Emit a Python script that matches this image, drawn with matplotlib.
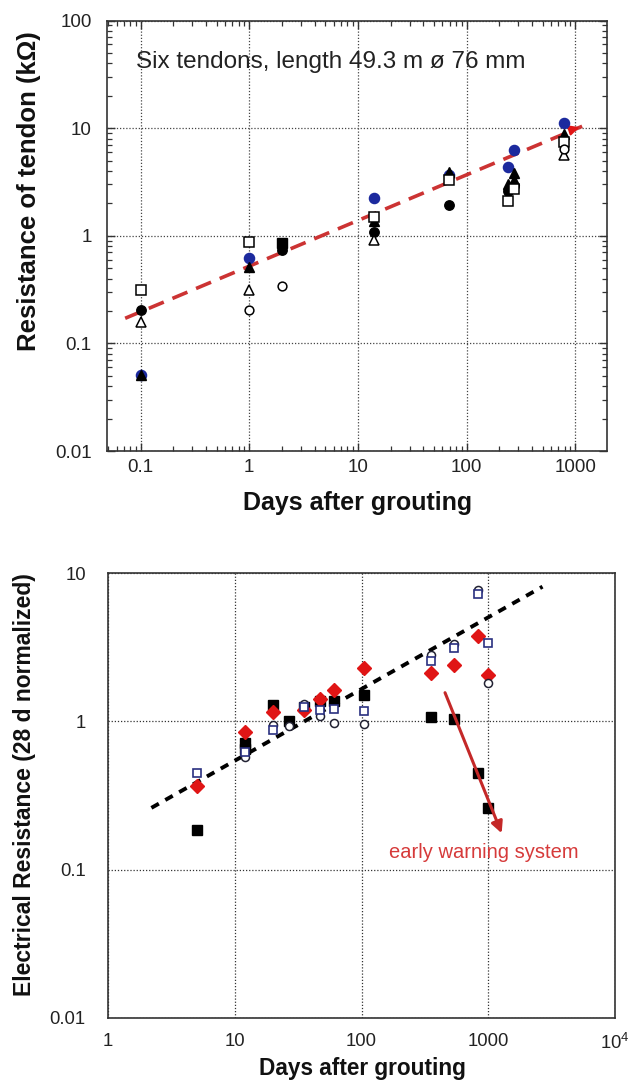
import matplotlib
matplotlib.use('Agg')
import matplotlib.pyplot as plt
from matplotlib.ticker import LogLocator, NullFormatter, FixedLocator

plt.rcParams['font.family'] = ['Liberation Sans', 'DejaVu Sans']

# ---- top chart: six tendons (days after grouting, resistance in kOhm)
sq_open_days = [0.1, 1, 14, 69, 242, 274, 793]
sq_open_res = [0.31, 0.87, 1.5, 3.28, 2.1, 2.71, 7.45]

circ_black_days = [0.1, 2, 14, 69, 242, 274]
circ_black_res = [0.205, 0.74, 1.09, 1.94, 2.6, 2.9]

tri_open_days = [0.1, 1, 14, 793]
tri_open_res = [0.157, 0.313, 0.92, 5.68]

circ_blue_days = [0.1, 1, 14, 69, 242, 274, 793]
circ_blue_res = [0.051, 0.625, 2.25, 3.7, 4.37, 6.23, 11.2]

tri_black_days = [0.1, 1, 14, 69, 242, 274, 274, 793]
tri_black_res = [0.051, 0.516, 1.38, 3.92, 3.0, 3.8, 3.3, 8.9]

circ_open_days = [1, 2, 793]
circ_open_res = [0.205, 0.344, 6.46]

sq_black_days = [2]
sq_black_res = [0.85]

trend_top_x = [0.072, 1157]
trend_top_y = [0.171, 10.4]

# ---- bottom chart: normalized resistance
b_sq_black_days = [5, 12, 12, 20, 27, 35, 47, 61, 104, 352, 539, 834, 1000]
b_sq_black_res = [0.185, 0.71, 0.655, 1.28, 1.0, 1.24, 1.38, 1.38, 1.5, 1.07, 1.04, 0.445, 0.259]

b_diamond_days = [5, 12, 20, 35, 47, 61, 104, 352, 539, 834, 1000]
b_diamond_res = [0.365, 0.85, 1.16, 1.19, 1.42, 1.62, 2.28, 2.12, 2.38, 3.79, 2.06]

b_sq_open_days = [5, 12, 20, 35, 47, 61, 104, 352, 539, 834, 1000]
b_sq_open_res = [0.45, 0.62, 0.88, 1.25, 1.2, 1.22, 1.17, 2.57, 3.13, 7.22, 3.38]

b_circ_open_days = [12, 20, 27, 35, 47, 61, 104, 352, 539, 834, 1000]
b_circ_open_res = [0.575, 0.94, 0.93, 1.31, 1.09, 0.98, 0.96, 2.82, 3.33, 7.69, 1.82]

trend_bot_x = [2.2, 2680]
trend_bot_y = [0.261, 8.09]

warn_x = [456, 1276]
warn_y = [1.56, 0.176]

top_xticks = [0.1, 1, 10, 100, 1000]
top_xlabels = ['0.1', '1', '10', '100', '1000']
top_yticks = [0.01, 0.1, 1, 10, 100]
top_ylabels = ['0.01', '0.1', '1', '10', '100']
bot_xticks = [1, 10, 100, 1000, 10000]
bot_xlabels = ['1', '10', '100', '1000', r'$\mathregular{10^4}$']
bot_yticks = [0.01, 0.1, 1, 10]
bot_ylabels = ['0.01', '0.1', '1', '10']

W, H = 639, 1084
fig = plt.figure(figsize=(W / 100, H / 100), dpi=100)

blue = '#1c2a9e'
navy = '#2a3080'
red = '#e01515'
dash_red = '#cc3333'

# ================= top chart
ax1 = fig.add_axes([107 / W, 1 - 451 / H, 500 / W, 430.5 / H])
ax1.set_xscale('log')
ax1.set_yscale('log')
ax1.set_xlim(0.049, 1960)
ax1.set_ylim(0.01, 100)

ax1.grid(True, which='major', color='#444444', linestyle=(0, (1, 1.5)), linewidth=0.9)
ax1.set_axisbelow(True)

ms = 6.8
ax1.plot(trend_top_x, trend_top_y, color=dash_red, lw=2.6, dashes=(4.5, 2.6), zorder=2)
ax1.annotate('', xy=(trend_top_x[1], trend_top_y[1]), xytext=(trend_top_x[1] * 0.8, trend_top_y[1] * 0.93),
             arrowprops=dict(arrowstyle='-|>', color=red, lw=1.5, mutation_scale=15), zorder=3)

ax1.plot(circ_blue_days, circ_blue_res, 'o', ms=ms + 0.5, color=blue, mec=blue, zorder=4)
ax1.plot(circ_black_days, circ_black_res, 'o', ms=ms, color='black', zorder=4)
ax1.plot(tri_black_days, tri_black_res, '^', ms=ms, color='black', zorder=5)
ax1.plot(sq_black_days, sq_black_res, 's', ms=ms, color='black', zorder=5)
ax1.plot(sq_open_days, sq_open_res, 's', ms=ms, mfc='white', mec='black', mew=1.1, zorder=5)
ax1.plot(tri_open_days, tri_open_res, '^', ms=ms, mfc='white', mec='black', mew=1.1, zorder=5)
ax1.plot(circ_open_days, circ_open_res, 'o', ms=ms - 0.5, mfc='white', mec='black', mew=1.1, zorder=5)

ax1.text(0.059, 41, 'Six tendons, length 49.3 m ø 76 mm', fontsize=17.5, va='center', ha='left',
         color='#222222', transform=ax1.get_yaxis_transform())

ax1.xaxis.set_major_locator(FixedLocator(top_xticks))
ax1.set_xticklabels(top_xlabels)
ax1.yaxis.set_major_locator(FixedLocator(top_yticks))
ax1.set_yticklabels(top_ylabels)
ax1.xaxis.set_minor_locator(LogLocator(base=10, subs=range(2, 10), numticks=20))
ax1.yaxis.set_minor_locator(LogLocator(base=10, subs=range(2, 10), numticks=20))
ax1.xaxis.set_minor_formatter(NullFormatter())
ax1.yaxis.set_minor_formatter(NullFormatter())
ax1.tick_params(which='both', direction='in', top=True, right=True, color='#333333')
ax1.tick_params(which='major', length=6, width=1.0)
ax1.tick_params(which='minor', length=3.5, width=0.9)
ax1.tick_params(axis='x', which='major', labelsize=13.5, pad=6, labelcolor='#222222')
ax1.tick_params(axis='y', which='major', labelsize=13.5, pad=11, labelcolor='#222222')
for s in ax1.spines.values():
    s.set_linewidth(1.2)
    s.set_color('#333333')

fig.text(358 / W, 1 - 503 / H, 'Days after grouting', fontsize=18, fontweight='bold',
         ha='center', va='center', color='#111111')
fig.text(29 / W, 1 - 191 / H, 'Resistance of tendon (kΩ)', fontsize=18.5, fontweight='bold',
         ha='center', va='center', rotation=90, color='#111111')

# ================= bottom chart
ax2 = fig.add_axes([108 / W, 1 - 1018 / H, 507 / W, 445 / H])
ax2.set_xscale('log')
ax2.set_yscale('log')
ax2.set_xlim(1, 10000)
ax2.set_ylim(0.01, 10)
ax2.grid(True, which='major', color='#333333', linestyle=(0, (1, 1.5)), linewidth=0.9)
ax2.set_axisbelow(True)

ax2.plot(trend_bot_x, trend_bot_y, color='black', lw=2.8, dashes=(2.2, 1.9), zorder=2)

ax2.plot(b_sq_black_days, b_sq_black_res, 's', ms=7, color='black', zorder=4)
ax2.plot(b_diamond_days, b_diamond_res, 'D', ms=7.2, color=red, mec=red, zorder=5)
ax2.plot(b_circ_open_days, b_circ_open_res, 'o', ms=5.8, mfc='white', mec='#222233', mew=1.1, zorder=5)
ax2.plot(b_sq_open_days, b_sq_open_res, 's', ms=6.4, mfc='white', mec=navy, mew=1.2, zorder=6)

ax2.annotate('', xy=(warn_x[1], warn_y[1]), xytext=(warn_x[0], warn_y[0]),
             arrowprops=dict(arrowstyle='-|>', color='#c42828', lw=2.2, mutation_scale=17,
                             shrinkA=0, shrinkB=0), zorder=7)
ax2.text(928, 0.13, 'early warning system', fontsize=14.5, color='#d63a3a', ha='center', va='center')

ax2.xaxis.set_major_locator(FixedLocator(bot_xticks))
ax2.set_xticklabels(bot_xlabels)
ax2.yaxis.set_major_locator(FixedLocator(bot_yticks))
ax2.set_yticklabels(bot_ylabels)
ax2.xaxis.set_minor_locator(FixedLocator([]))
ax2.yaxis.set_minor_locator(FixedLocator([]))
ax2.tick_params(which='both', length=0)
ax2.tick_params(axis='x', labelsize=13.3, pad=11, labelcolor='#222222')
ax2.tick_params(axis='y', labelsize=13.3, pad=16, labelcolor='#222222')
for s in ax2.spines.values():
    s.set_linewidth(1.2)
    s.set_color('#333333')

fig.text(362 / W, 1 - 1068 / H, 'Days after grouting', fontsize=16.3, fontweight='bold',
         ha='center', va='center', color='#111111')
fig.text(25 / W, 1 - 785 / H, 'Electrical Resistance (28 d normalized)', fontsize=16.5, fontweight='bold',
         ha='center', va='center', rotation=90, color='#111111')

fig.savefig('out.png', dpi=100)
